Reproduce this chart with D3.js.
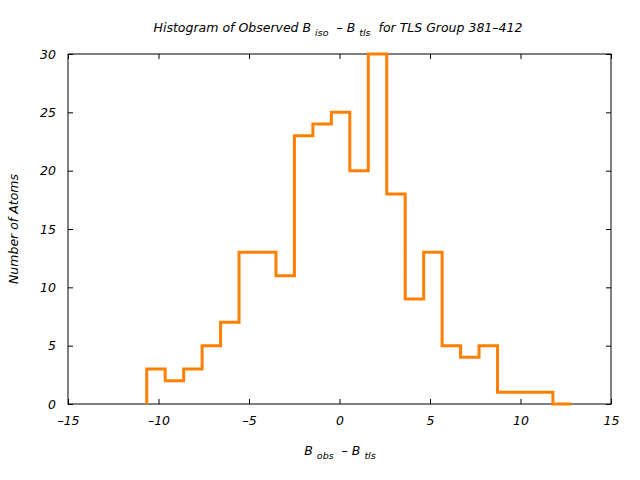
<!DOCTYPE html>
<html><head><meta charset="utf-8">
<script src="https://cdn.jsdelivr.net/npm/d3@7"></script>
<style>body{margin:0;background:#fff}text{font-family:"DejaVu Sans",sans-serif;font-style:italic;white-space:pre}</style>
</head><body><svg id="c" width="640" height="480"></svg>
<script>
const binStart = -10.65;
const binWidth = 1.02;
const counts = [3,2,3,5,7,13,13,11,23,24,25,20,30,18,9,13,5,4,5,1,1,1,0];
const xTicks = [-15,-10,-5,0,5,10,15];
const yTicks = [0,5,10,15,20,25,30];

(function(){
const svg = d3.select("#c");
const L=68,R=611,T=54,B=404;
const x = d3.scaleLinear().domain([-15,15]).range([L,R]);
const y = d3.scaleLinear().domain([0,30]).range([B,T]);
const FS=12.5;

const pts = [[binStart,0]];
counts.forEach((c,i)=>{const x0=binStart+i*binWidth;pts.push([x0,c]);pts.push([x0+binWidth,c]);});
pts.push([binStart+counts.length*binWidth,0]);

const g=svg.append("g");
const ax = (gen,tr)=>g.append("g").attr("transform",tr).call(gen);
const tl=5;
const fmt = d=>String(d).replace("-","\u2013");
ax(d3.axisBottom(x).tickValues(xTicks).tickSizeInner(-tl).tickSizeOuter(0).tickPadding(12).tickFormat(fmt),`translate(0,${B})`);
ax(d3.axisTop(x).tickValues(xTicks).tickSizeInner(-tl).tickSizeOuter(0).tickFormat(""),`translate(0,${T})`);
ax(d3.axisLeft(y).tickValues(yTicks).tickSizeInner(-tl).tickSizeOuter(0).tickPadding(12).tickFormat(fmt),`translate(${L},0)`);
ax(d3.axisRight(y).tickValues(yTicks).tickSizeInner(-tl).tickSizeOuter(0).tickFormat(""),`translate(${R},0)`);
g.selectAll(".domain").remove();
g.selectAll("line").attr("stroke","#000");
g.selectAll("text").attr("font-size",FS).attr("fill","#000").style("font-family",'"DejaVu Sans",sans-serif');
svg.append("rect").attr("x",L).attr("y",T).attr("width",R-L).attr("height",B-T)
  .attr("fill","none").attr("stroke","#000").attr("stroke-width",1);

svg.append("path").attr("d",d3.line().x(d=>x(d[0])).y(d=>y(d[1]))(pts))
  .attr("fill","none").attr("stroke","#ff8000").attr("stroke-width",3).attr("stroke-linejoin","miter");

const t=svg.append("text").attr("x",338).attr("y",32).attr("text-anchor","middle").attr("font-size",FS);
t.append("tspan").text("Histogram of Observed B ");
t.append("tspan").attr("font-size",9.5).attr("dy",4).text("iso");
t.append("tspan").attr("dy",-4).text("  \u2013 B ");
t.append("tspan").attr("font-size",9.5).attr("dy",4).text("tls");
t.append("tspan").attr("dy",-4).text("  for TLS Group 381\u2013412");

const xl=svg.append("text").attr("x",340).attr("y",455).attr("text-anchor","middle").attr("font-size",FS);
xl.append("tspan").text("B ");
xl.append("tspan").attr("font-size",9.5).attr("dy",4).text("obs");
xl.append("tspan").attr("dy",-4).text("  \u2013 B ");
xl.append("tspan").attr("font-size",9.5).attr("dy",4).text("tls");

svg.append("text").attr("transform","translate(18,229) rotate(-90)").attr("text-anchor","middle")
  .attr("font-size",FS).text("Number of Atoms");
})();
</script></body></html>
